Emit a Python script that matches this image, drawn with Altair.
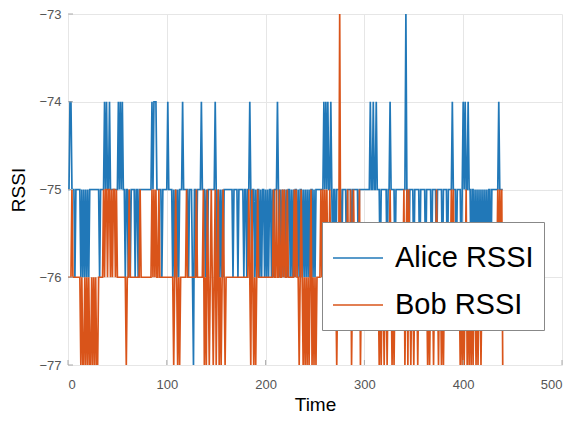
import altair as alt
import pandas as pd

# RSSI samples, one per time unit
alice_rssi = [
    -75,-75,-74,-74,-75,-75,-75,-76,-75,-75,-75,-75,-75,-76,-75,-76,-75,-76,-75,-76,
    -75,-76,-75,-75,-75,-75,-75,-75,-75,-75,-75,-75,-76,-75,-75,-75,-75,-74,-75,-74,
    -75,-75,-74,-75,-75,-75,-75,-75,-75,-75,-75,-74,-75,-74,-75,-74,-75,-75,-76,-75,
    -75,-76,-75,-76,-75,-75,-75,-75,-76,-75,-75,-76,-75,-75,-75,-75,-75,-75,-75,-75,
    -75,-75,-75,-75,-75,-74,-75,-74,-74,-74,-75,-75,-75,-75,-75,-76,-75,-75,-75,-75,
    -75,-74,-75,-75,-75,-75,-76,-75,-76,-75,-76,-75,-76,-75,-75,-75,-74,-75,-75,-75,
    -75,-75,-76,-75,-75,-75,-76,-77,-75,-75,-76,-75,-75,-75,-75,-74,-75,-75,-75,-76,
    -75,-76,-75,-75,-75,-75,-75,-75,-75,-74,-75,-76,-75,-76,-75,-76,-75,-76,-75,-75,
    -75,-75,-75,-75,-75,-75,-75,-76,-75,-75,-75,-75,-76,-75,-75,-75,-75,-75,-76,-75,
    -75,-76,-75,-75,-74,-75,-76,-75,-75,-76,-75,-76,-75,-75,-76,-75,-76,-75,-75,-76,
    -75,-76,-75,-76,-75,-75,-76,-75,-76,-75,-75,-75,-74,-75,-76,-75,-76,-75,-76,-75,
    -76,-75,-76,-75,-75,-76,-75,-76,-75,-76,-75,-75,-76,-75,-76,-75,-75,-76,-75,-76,
    -75,-76,-75,-76,-75,-76,-75,-75,-76,-75,-76,-75,-75,-75,-75,-75,-75,-75,-75,-74,
    -75,-74,-75,-74,-75,-75,-74,-75,-76,-75,-75,-76,-75,-75,-75,-75,-75,-76,-75,-75,
    -75,-75,-76,-75,-75,-75,-75,-76,-75,-75,-75,-75,-75,-75,-76,-75,-75,-75,-75,-75,
    -75,-75,-75,-75,-75,-75,-74,-75,-75,-74,-75,-75,-74,-75,-75,-75,-76,-75,-75,-75,
    -75,-75,-75,-76,-75,-75,-74,-75,-75,-75,-75,-76,-75,-75,-75,-75,-75,-75,-75,-75,
    -75,-75,-73,-75,-75,-76,-75,-75,-75,-75,-76,-75,-75,-75,-75,-75,-76,-75,-75,-75,
    -75,-75,-76,-75,-75,-75,-75,-75,-76,-75,-75,-75,-75,-76,-75,-75,-75,-75,-75,-76,
    -75,-75,-75,-75,-76,-75,-75,-75,-75,-74,-75,-75,-75,-76,-75,-75,-75,-75,-76,-75,
    -74,-75,-74,-75,-75,-74,-75,-75,-76,-75,-75,-76,-75,-76,-75,-76,-75,-76,-75,-76,
    -75,-76,-75,-76,-75,-76,-75,-75,-76,-75,-75,-75,-75,-75,-75,-75,-74,-75,-75,-75,
    -75,
]

bob_rssi = [
    -76,-76,-76,-76,-75,-76,-76,-76,-76,-76,-76,-76,-76,-77,-76,-77,-77,-76,-77,-76,
    -77,-76,-77,-77,-76,-77,-76,-77,-76,-77,-77,-76,-76,-76,-76,-76,-75,-76,-75,-75,
    -76,-75,-75,-76,-75,-76,-75,-75,-76,-75,-76,-76,-76,-76,-76,-76,-76,-76,-76,-77,
    -76,-76,-75,-76,-76,-76,-76,-76,-76,-76,-76,-76,-76,-75,-76,-76,-76,-76,-76,-76,
    -76,-76,-76,-76,-76,-75,-76,-75,-76,-75,-76,-76,-75,-76,-76,-76,-76,-76,-76,-76,
    -76,-76,-76,-76,-76,-76,-76,-77,-76,-75,-76,-77,-76,-77,-76,-76,-76,-76,-76,-76,
    -75,-76,-76,-76,-76,-76,-76,-76,-76,-76,-75,-76,-76,-76,-76,-76,-76,-75,-77,-76,
    -77,-75,-76,-77,-76,-75,-76,-77,-76,-75,-77,-76,-75,-77,-76,-77,-76,-75,-76,-77,
    -76,-76,-76,-76,-76,-76,-76,-76,-76,-76,-76,-76,-76,-76,-76,-76,-76,-76,-76,-76,
    -76,-76,-76,-75,-76,-77,-75,-76,-77,-76,-77,-76,-75,-76,-76,-76,-76,-76,-76,-76,
    -76,-76,-76,-76,-76,-76,-76,-76,-75,-76,-76,-75,-76,-76,-75,-76,-76,-75,-76,-75,
    -76,-76,-75,-76,-76,-76,-76,-76,-76,-75,-76,-75,-76,-76,-77,-76,-75,-76,-77,-76,
    -77,-76,-77,-76,-77,-76,-75,-77,-76,-77,-76,-77,-76,-76,-76,-76,-75,-76,-75,-76,
    -75,-76,-75,-76,-76,-75,-76,-76,-76,-76,-76,-76,-77,-76,-76,-73,-76,-76,-76,-76,
    -76,-76,-76,-75,-76,-76,-75,-77,-76,-75,-76,-76,-76,-76,-76,-75,-77,-76,-76,-76,
    -76,-76,-76,-76,-76,-76,-76,-76,-76,-76,-76,-76,-76,-76,-76,-77,-76,-77,-76,-76,
    -77,-76,-76,-77,-76,-76,-75,-76,-77,-76,-77,-76,-76,-76,-76,-76,-76,-76,-76,-76,
    -75,-77,-76,-75,-77,-75,-76,-77,-76,-76,-77,-76,-76,-76,-77,-76,-76,-76,-76,-76,
    -76,-76,-76,-76,-77,-76,-77,-76,-76,-76,-77,-76,-76,-75,-76,-77,-76,-76,-77,-76,
    -77,-76,-76,-76,-76,-76,-76,-76,-75,-76,-75,-76,-76,-76,-76,-76,-76,-77,-76,-77,
    -76,-77,-76,-75,-77,-76,-77,-76,-77,-76,-77,-76,-76,-77,-76,-77,-76,-76,-77,-76,
    -76,-76,-76,-76,-76,-76,-76,-76,-76,-76,-76,-76,-76,-76,-76,-75,-76,-75,-76,-75,
    -77,
]

series_names = ["Alice RSSI", "Bob RSSI"]
series_colors = ["#2178b8", "#d9541a"]
x_ticks = [0, 100, 200, 300, 400, 500]
y_ticks = [-77, -76, -75, -74, -73]

rows = []
for name, vals in zip(series_names, [alice_rssi, bob_rssi]):
    for t, v in enumerate(vals):
        rows.append({"Time": t, "RSSI": v, "series": name})
df = pd.DataFrame(rows)

FONT = "Liberation Sans"
W, H = 494, 351

x_scale = alt.Scale(domain=[0, 500], nice=False)
y_scale = alt.Scale(domain=[-77, -73], nice=False)

x_axis = alt.Axis(values=x_ticks, format="d", title="Time", grid=True,
                  domain=False, ticks=False, labelFontSize=13,
                  labelColor="#555555", labelPadding=13, titleFontSize=19,
                  titleFontWeight="normal", titleColor="#000000",
                  titlePadding=4, labelFont=FONT, titleFont=FONT)
y_axis = alt.Axis(values=y_ticks, format="d", title="RSSI", grid=True,
                  domain=False, ticks=False, labelFontSize=13,
                  labelColor="#555555", labelPadding=7, titleFontSize=19,
                  titleFontWeight="normal", titleColor="#000000",
                  titlePadding=10, labelFont=FONT, titleFont=FONT)

lines = alt.Chart(df).mark_line(strokeWidth=1.7, clip=True).encode(
    x=alt.X("Time:Q", scale=x_scale, axis=x_axis, title="Time"),
    y=alt.Y("RSSI:Q", scale=y_scale, axis=y_axis, title="RSSI"),
    color=alt.Color("series:N",
                    scale=alt.Scale(domain=series_names, range=series_colors),
                    legend=alt.Legend(title=None, orient="none", legendX=254, legendY=208,
                                      symbolType="stroke", symbolSize=2500,
                                      symbolStrokeWidth=1.7, labelFontSize=29,
                                      labelFont=FONT, labelColor="#000000",
                                      labelOffset=11, rowPadding=6, padding=10,
                                      strokeColor="#888888", fillColor="#ffffff",
                                      labelLimit=300)),
)

# inward tick marks (MATLAB style)
ytick_df = pd.DataFrame({"v": y_ticks})
xtick_df = pd.DataFrame({"v": x_ticks})
yticks = alt.Chart(ytick_df).mark_rule(color="#aaaaaa", strokeWidth=1).encode(
    y=alt.Y("v:Q", scale=y_scale, axis=y_axis, title="RSSI"),
    x=alt.value(0), x2=alt.value(5))
xticks = alt.Chart(xtick_df).mark_rule(color="#aaaaaa", strokeWidth=1).encode(
    x=alt.X("v:Q", scale=x_scale, axis=x_axis, title="Time"),
    y=alt.value(H), y2=alt.value(H - 5))

chart = alt.layer(lines, yticks, xticks).properties(
    width=W,
    height=H,
    padding={"left": 60, "top": 6, "right": 13, "bottom": 49},
    autosize=alt.AutoSizeParams(type="none"),
).configure_axis(
    gridColor="#e6e6e6",
).configure_view(
    stroke=None,
)

chart.save("out.html", embed_options={"renderer": "svg", "actions": False})
